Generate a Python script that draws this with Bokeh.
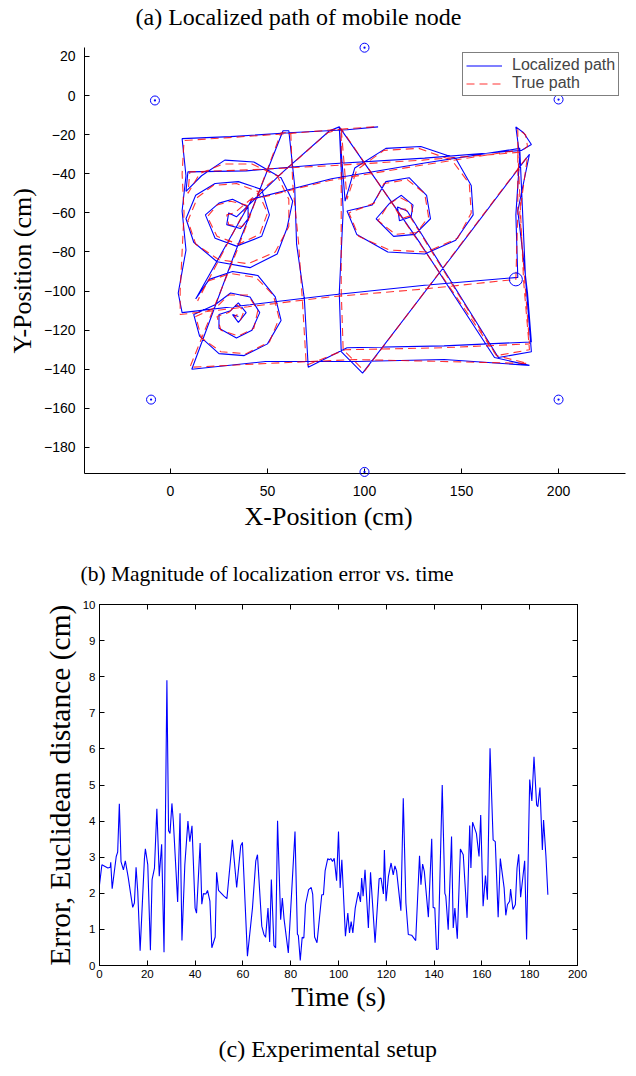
from bokeh.plotting import figure
from bokeh.models import Range1d, FixedTicker, LinearAxis, Legend, LegendItem, Title
from bokeh.core.properties import value
from bokeh.embed import file_html
from bokeh.resources import INLINE

SERIF = "Liberation Serif"
SANS = "Liberation Sans"

# ---------------- (a) path data (cm) ----------------
true_path = [
    (105, -16), (90, -17), (60, -19.5), (30, -21.5), (7, -23),
    (6, -40), (7, -60), (6, -80), (5, -100), (5, -112),
    (40, -108), (82, -103), (130, -99), (178, -94),
    (179, -60), (179, -30), (179, -17),
    (183, -20), (184, -26), (180, -29),
    (130, -33), (80, -36), (40, -38), (10, -39),
    (9, -50), (15, -40), (27, -35), (42, -35), (55, -41), (61, -53), (61, -67), (54, -80), (40, -86), (25, -84), (13, -76), (9, -64),
    (14, -52), (22, -46), (34, -45), (45, -49), (50, -60), (46, -71), (35, -76), (24, -72), (19, -62),
    (24, -56), (31, -54), (39, -56), (41, -62), (37, -67), (30, -66), (29, -61), (33, -60),
    (57, -40), (81, -19),
    (88, -17), (128, -75), (168, -133), (184, -137),
    (140, -136), (95, -135), (50, -137), (10, -139),
    (34, -80), (57, -19),
    (62, -19), (63, -45), (66, -75), (68, -105), (70, -138),
    (90, -130), (140, -129), (185, -127),
    (183, -100), (180, -60), (184, -31),
    (142, -86), (100, -141), (89, -130),
    (88, -100), (88, -60), (88, -17),
    (91, -53), (96, -38), (110, -28), (128, -27), (145, -33), (154, -45), (155, -60), (148, -73), (132, -80), (113, -79), (97, -72), (92, -60),
    (105, -55), (110, -45), (122, -43), (131, -50), (133, -62), (127, -70), (116, -71), (107, -64),
    (112, -56), (118, -52), (124, -55), (125, -61), (119, -63), (116, -58), (121, -58),
    (168, -133), (185, -130), (182, -95), (179, -28), (130, -35.5), (82, -43.4), (41, -53.6),
    (14, -105), (19, -95), (31, -91), (44, -93), (53, -102), (56, -114), (51, -126), (39, -132), (26, -131), (16, -124), (13, -113),
    (24, -108), (30, -102), (40, -102), (45, -110), (43, -119), (35, -123), (26, -120), (24, -113),
    (30, -111), (34, -107), (38, -110), (36, -115), (33, -113), (34.5, -112),
]

est_path = [
    (107, -16), (91, -17.5), (61, -19), (31, -21), (6, -22),
    (8, -41), (6, -59), (8, -79), (4, -101), (6, -111),
    (41, -107), (83, -102), (131, -97), (179, -93),
    (178, -61), (180, -31), (178, -16),
    (182, -19), (186, -25), (181, -28),
    (131, -32), (81, -35), (39, -38.5), (9, -39),
    (8, -49), (16, -41), (28, -33), (43, -34), (57, -42), (63, -54), (60, -68), (55, -81), (41, -88), (24, -85), (12, -75), (8, -63),
    (13, -51), (23, -45), (35, -44), (47, -48), (51, -61), (47, -72), (34, -77), (23, -73), (18, -61),
    (25, -55), (32, -53), (40, -57), (40, -63), (36, -68), (29, -66), (30, -60), (34, -62),
    (58, -39), (82, -18),
    (87, -16), (129, -76), (167, -134), (185, -138),
    (141, -135), (96, -136), (49, -136), (11, -140),
    (33, -81), (58, -18),
    (61, -18), (64, -46), (65, -76), (69, -104), (71, -139),
    (91, -129), (141, -128), (186, -126),
    (184, -101), (179, -59), (185, -30),
    (143, -85), (99, -142), (88, -131),
    (87, -101), (89, -59), (87, -16),
    (90, -54), (95, -37), (111, -27), (129, -26), (147, -32), (155, -46), (156, -61), (147, -74), (131, -81), (112, -80), (96, -71), (91, -59),
    (104, -56), (111, -44), (123, -42), (132, -51), (134, -63), (126, -71), (115, -72), (106, -63),
    (113, -55), (119, -51), (125, -56), (124, -62), (118, -64), (117, -57), (122, -59),
    (169, -134), (186, -131), (183, -94), (180, -27), (131, -34.5), (83, -42.5), (42, -53),
    (13, -104), (20, -94), (32, -90), (45, -92), (54, -103), (57, -115), (50, -127), (38, -133), (25, -132), (15, -123), (12, -112),
    (23, -107), (31, -101), (41, -103), (46, -111), (42, -120), (34, -124), (25, -119), (25, -112),
    (31, -110), (35, -106), (39, -111), (35, -116), (32, -112), (35, -113),
]

anchor_x = [100, -8, 200, -10, 200, 100]
anchor_y = [24.5, -2.5, -2, -155.5, -155.5, -192.5]
node_x = [178]
node_y = [-94]

x_ticks_a = [0, 50, 100, 150, 200]
y_ticks_a = [-180, -160, -140, -120, -100, -80, -60, -40, -20, 0, 20]

# ---------------- (b) error data ----------------
time_s = [0, 1, 3.5, 4.5, 4.7, 5.3, 7, 7.6, 8.3, 9, 10, 10.8, 12, 13, 13.9, 14.6, 15.3, 16, 17, 18.8,
          19.2, 20.2, 21.3, 22, 23, 24, 25, 26, 27, 28.2, 28.9, 29.5, 30.3, 30.9, 32.7, 33.7, 34.5, 35.7, 37, 37.8,
          38.7, 40, 40.6, 42.1, 42.8, 43.5, 44.5, 45.2, 46.2, 47, 48.4, 49, 49.8, 51, 52, 53.3, 55.6, 57.4, 59.1, 59.8,
          61.9, 64, 65.4, 66.1, 67.9, 68.8, 69.5, 70.5, 71.2, 71.9, 73, 73.7, 74.5, 75.8, 76.5, 77.2, 79, 81.8, 82.8, 83.2,
          84, 84.8, 85.5, 86.2, 87.5, 88.6, 89.2, 90, 91, 93, 93.7, 94.4, 95.5, 96.1, 96.8, 97.5, 98.2, 99.2, 100, 100.7,
          101.4, 102.9, 103.9, 104.6, 105.3, 106, 107, 108.3, 109.2, 109.7, 110.3, 111.1, 112.5, 113.4, 115.3, 117, 117.8, 118.8, 119.2, 119.9,
          120.9, 122, 122.9, 123.6, 124.3, 126.1, 127.1, 128.2, 129.2, 130.6, 132.3, 133.9, 134.5, 135.2, 135.9, 137.6, 139, 139.6, 140.3, 141,
          141.7, 143.4, 144.5, 144.9, 145.9, 147.3, 148, 148.7, 149.7, 151, 152.2, 153.8, 154.9, 155.4, 156.1, 157.7, 158.8, 159.5, 160.5, 161.5,
          162.3, 163.4, 164.7, 165.6, 166.8, 167.7, 169.3, 170, 170.7, 171.6, 172, 173, 174, 174.7, 175.4, 176.2, 177.9, 178.7, 180, 180.9,
          181.8, 182.9, 183.4, 184.3, 185.3, 185.8, 186.8, 187.6]
error_cm = [2.24, 2.79, 2.7, 2.72, 2.86, 2.13, 3.02, 3.14, 4.48, 2.88, 2.65, 2.9, 2.45, 2.0, 1.61, 1.73, 2.72, 2.05, 0.41, 2.96,
            3.23, 2.79, 0.42, 2.38, 2.7, 4.34, 2.47, 3.36, 0.37, 7.9, 3.73, 3.66, 4.49, 3.99, 1.76, 4.22, 0.69, 2.79, 4.0, 3.43,
            3.87, 1.59, 1.45, 3.39, 1.70, 1.99, 1.98, 2.08, 1.78, 0.49, 0.79, 2.58, 2.08, 2.0, 1.93, 1.85, 3.48, 2.16, 3.32, 3.41,
            0.26, 1.59, 2.90, 3.07, 1.09, 0.86, 0.78, 1.59, 0.65, 2.38, 0.55, 0.49, 4.01, 1.27, 1.87, 1.3, 0.35, 3.71, 0.87, 0.83,
            0.14, 0.78, 0.76, 1.69, 2.1, 2.16, 1.98, 0.79, 0.63, 1.96, 1.96, 2.62, 2.96, 2.93, 2.96, 2.88, 2.97, 2.35, 3.71, 2.15,
            2.93, 0.81, 1.45, 0.90, 1.22, 0.90, 1.59, 2.03, 1.76, 2.42, 1.92, 2.65, 1.04, 2.58, 0.63, 2.40, 2.42, 1.98, 3.2, 1.78,
            2.47, 2.84, 2.51, 2.76, 2.62, 1.52, 4.63, 1.73, 0.86, 0.84, 0.69, 3.04, 2.24, 2.81, 2.61, 1.34, 3.51, 1.61, 1.59, 0.44,
            0.46, 5.0, 2.0, 1.92, 0.99, 3.57, 1.04, 1.59, 0.74, 3.23, 3.07, 1.32, 3.88, 2.7, 3.97, 3.66, 3.02, 4.17, 1.64, 2.49,
            1.82, 6.02, 3.48, 3.43, 1.34, 2.96, 2.15, 1.39, 1.69, 1.78, 2.12, 1.55, 1.69, 2.7, 3.08, 1.89, 2.9, 0.72, 5.15, 4.56,
            5.78, 4.45, 4.4, 4.93, 3.2, 4.03, 3.02, 1.96]

x_ticks_b = [0, 20, 40, 60, 80, 100, 120, 140, 160, 180, 200]
y_ticks_b = [0, 1, 2, 3, 4, 5, 6, 7, 8, 9, 10]

captions = ["(a) Localized path of mobile node",
            "(b) Magnitude of localization error vs. time",
            "(c) Experimental setup"]

BLUE = "#0000ff"
RED = "#ff0000"


def style_axis(ax, ticks, label_size, standoff, title_size):
    ax.ticker = FixedTicker(ticks=ticks)
    ax.major_tick_in = 5
    ax.major_tick_out = 0
    ax.minor_tick_line_color = None
    ax.axis_line_color = "black"
    ax.major_tick_line_color = "black"
    ax.major_label_text_font = SANS
    ax.major_label_text_font_size = label_size
    ax.major_label_text_color = "black"
    ax.major_label_standoff = standoff
    ax.axis_label_text_font = SERIF
    ax.axis_label_text_font_style = "normal"
    ax.axis_label_text_font_size = title_size
    ax.axis_label_text_color = "black"


def caption_strip(text, height, left, center_from_top, size):
    f = figure(width=636, height=height, output_backend="svg", toolbar_location=None,
               x_range=Range1d(0, 636), y_range=Range1d(height, 0),
               x_axis_location=None, y_axis_location=None, min_border=0)
    f.outline_line_color = None
    f.xgrid.visible = False
    f.ygrid.visible = False
    f.text(x=[left], y=[center_from_top], text=[text], text_font=value(SERIF),
           text_font_size=value(size), text_align="left", text_baseline="middle",
           text_color="black")
    return f


def side_title(text, offset, valign, standoff, size):
    return Title(text=text, align="left", offset=offset, vertical_align=valign, standoff=standoff,
                 text_font=SERIF, text_font_size=size, text_font_style="normal", text_color="black")


cap_a = caption_strip(captions[0], 32, 135, 16, "24px")
cap_b = caption_strip(captions[1], 45, 80, 28, "21.5px")
cap_c = caption_strip(captions[2], 56, 218, 28, "24px")

# ---------------- figure (a) ----------------
p1 = figure(width=636, height=513, output_backend="svg", toolbar_location=None,
            x_range=Range1d(-44.3, 234.5), y_range=Range1d(-193.3, 24.6),
            min_border_left=84, min_border_right=11, min_border_top=15, min_border_bottom=72)
p1.outline_line_color = None
p1.xgrid.visible = False
p1.ygrid.visible = False
style_axis(p1.xaxis[0], x_ticks_a, "14px", 12, "26px")
style_axis(p1.yaxis[0], y_ticks_a, "14px", 9, "26px")
p1.yaxis.major_label_overrides = {v: (("\u2212" + str(-v)) if v < 0 else str(v)) for v in y_ticks_a}
p1.add_layout(side_title("X-Position (cm)", 160, "top", 7, "26px"), "below")
p1.add_layout(side_title("Y-Position (cm)", 120, "bottom", 7, "26px"), "left")

ex = [pt[0] for pt in est_path]
ey = [pt[1] for pt in est_path]
tx = [pt[0] for pt in true_path]
ty = [pt[1] for pt in true_path]
r_est = p1.line(ex, ey, line_color=BLUE, line_width=1.1)
r_true = p1.line(tx, ty, line_color=RED, line_width=1.1, line_dash="8 5", line_alpha=0.8)
p1.scatter(anchor_x, anchor_y, marker="circle_dot", size=9, line_color=BLUE, fill_color=None,
           line_width=1, level="overlay")
p1.scatter(node_x, node_y, marker="circle", size=13, line_color=BLUE, fill_color=None,
           line_width=1, level="overlay")

leg = Legend(items=[LegendItem(label="Localized path", renderers=[r_est]),
                    LegendItem(label="True path", renderers=[r_true])],
             location=(378, 377))
leg.border_line_color = "black"
leg.border_line_width = 1
leg.background_fill_color = "white"
leg.background_fill_alpha = 1
leg.label_text_font = SANS
leg.label_text_font_size = "16px"
leg.glyph_width = 36
leg.glyph_height = 13
leg.label_height = 15
leg.label_standoff = 10
leg.spacing = 0
leg.padding = 3
leg.margin = 0
p1.add_layout(leg)

# ---------------- figure (b) ----------------
p2 = figure(width=636, height=430, output_backend="svg", toolbar_location=None,
            x_range=Range1d(0, 200), y_range=Range1d(0, 10),
            min_border_left=99, min_border_right=59, min_border_top=14, min_border_bottom=55)
p2.outline_line_color = "black"
p2.xgrid.visible = False
p2.ygrid.visible = False
style_axis(p2.xaxis[0], x_ticks_b, "11.5px", 4, "28px")
style_axis(p2.yaxis[0], y_ticks_b, "11.5px", 4, "29.5px")
p2.xaxis.axis_label = "Time (s)"
p2.yaxis.axis_label = "Error, Euclidean distance (cm)"
p2.xaxis.axis_label_standoff = 0
p2.yaxis.axis_label_standoff = 4

top_ax = LinearAxis()
style_axis(top_ax, x_ticks_b, "0px", 0, "10px")
top_ax.major_label_text_alpha = 0
p2.add_layout(top_ax, "above")
right_ax = LinearAxis()
style_axis(right_ax, y_ticks_b, "0px", 0, "10px")
right_ax.major_label_text_alpha = 0
p2.add_layout(right_ax, "right")

p2.line(time_s, error_cm, line_color=BLUE, line_width=1.1)

open("out.html", "w").write(file_html([cap_a, p1, cap_b, p2, cap_c], INLINE))
